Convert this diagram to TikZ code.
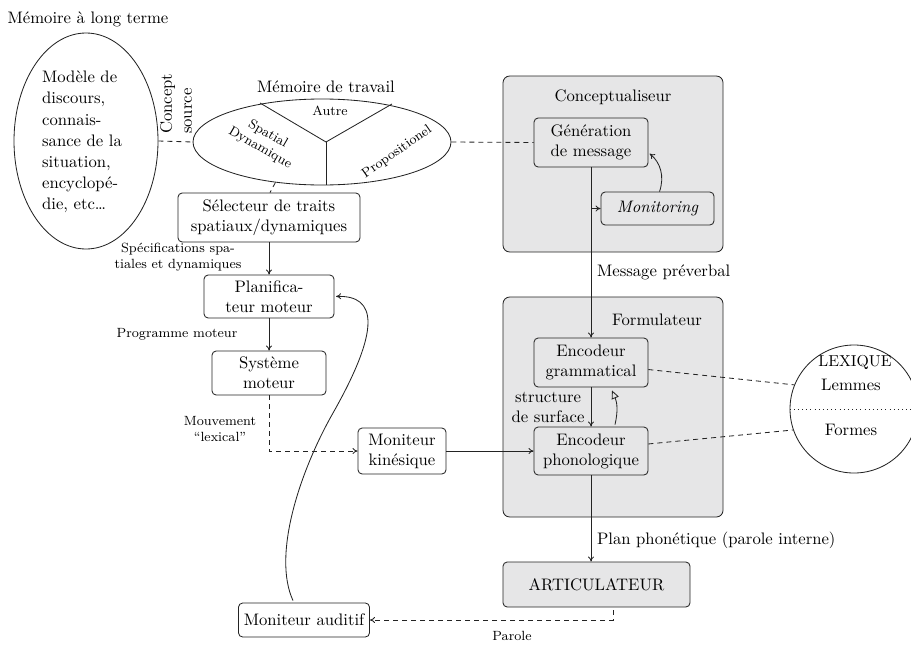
\documentclass[tikz,border=0pt]{standalone}
\usetikzlibrary{arrows.meta,calc,shapes.geometric}
\definecolor{panelgray}{RGB}{230,230,231}
\definecolor{inkgray}{RGB}{35,35,35}
\begin{document}
\begin{tikzpicture}[x=0.6pt,y=-0.6pt, line width=0.5pt, draw=inkgray,
  >={To[length=3pt,width=3.6pt]},
  box/.style={draw=inkgray, rounded corners=2.5pt, align=center, inner sep=1pt, fill=white},
  gbox/.style={box, fill=panelgray},
  panel/.style={draw=inkgray, rounded corners=4pt, fill=panelgray, inner sep=0pt},
  lbl/.style={font=\footnotesize, align=center, inner sep=1pt},
  txt/.style={align=center, inner sep=1pt},
  dashline/.style={dash pattern=on 3pt off 2.4pt}]
\useasboundingbox (0,0) rectangle (911,644);

% ---- long-term memory
\node[txt] (ltmtitle) at (88,19) {Mémoire à long terme};
\node[draw=inkgray, ellipse, minimum width=86.4pt, minimum height=129.6pt, inner sep=0pt] (ltm) at (86,141) {};
\node[align=left, inner sep=0pt, font=\linespread{1.06}\selectfont] (ltmtext) at (82,142) {Modèle de\\discours,\\connais-\\sance de la\\situation,\\encyclopé-\\die, etc\dots};
\node[rotate=90, align=left, anchor=north west, inner sep=1pt] (concept) at (158,136) {Concept\\source};

% ---- working memory
\node[txt] (wmtitle) at (326,87) {Mémoire de travail};
\node[draw=inkgray, ellipse, minimum width=154.8pt, minimum height=51.6pt, inner sep=0pt] (wm) at (322,142) {};
\coordinate (wmc) at (326,142);
\draw (wmc) -- (260,103);
\draw (wmc) -- (392,104);
\draw (wmc) -- (wmc |- wm.south);
\node[lbl] (autre) at (330,111) {Autre};
\node[lbl, rotate=-30] (spatial) at (264,141) {Spatial\\Dynamique};
\node[lbl, rotate=35] (prop) at (397,152) {Propositionel};

% ---- gesture side
\node[box, minimum width=109.2pt, minimum height=29.4pt] (sel) at (269,217.5) {Sélecteur de traits\\spatiaux/dynamiques};
\node[box, minimum width=78pt, minimum height=25.8pt] (pla) at (269,296.5) {Planifica-\\teur moteur};
\node[box, minimum width=68.4pt, minimum height=26.4pt] (sys) at (269,373) {Système\\moteur};
\node[box, minimum width=52.8pt, minimum height=27.6pt] (kin) at (402,451) {Moniteur\\kinésique};
\node[box, minimum width=78.6pt, minimum height=20.4pt] (aud) at (304,620) {Moniteur auditif};

\node[lbl] (specs) at (178,257) {Spécifications spa-\\tiales et dynamiques};
\node[lbl] (prog) at (177,334) {Programme moteur};
\node[lbl] (mouv) at (220,429) {Mouvement\\``lexical''};

% ---- conceptualiser
\node[panel, minimum width=132pt, minimum height=105.6pt] (concbox) at (613,164) {};
\node[txt] (conctitle) at (613,97) {Conceptualiseur};
\node[gbox, minimum width=68.4pt, minimum height=29.4pt] (gen) at (591,142.5) {Génération\\de message};
\node[gbox, minimum width=67.8pt, minimum height=19.8pt] (mon) at (657.5,208.5) {\itshape Monitoring};

% ---- formulator
\node[panel, minimum width=132pt, minimum height=132pt] (formbox) at (613,407) {};
\node[txt] (formtitle) at (657,320) {Formulateur};
\node[gbox, minimum width=68.4pt, minimum height=29.4pt] (gram) at (591,362.5) {Encodeur\\grammatical};
\node[gbox, minimum width=68.4pt, minimum height=28.8pt] (phon) at (591,451) {Encodeur\\phonologique};
\node[txt] (surf) at (548,407) {structure\\de surface};

% ---- articulator
\node[gbox, minimum width=112.2pt, minimum height=27pt] (art) at (596.5,584.5) {ARTICULATEUR};

% ---- lexicon
\node[draw=inkgray, circle, minimum size=76.8pt, inner sep=0pt] (lex) at (854,409) {};
\draw[dotted] (lex.west) -- (lex.east);
\node[txt, font=\fontsize{9.5}{11}\selectfont] (lexword) at (855,362) {LEXIQUE};
\node[txt] (lemmes) at (851,385) {Lemmes};
\node[txt] (formes) at (851,430) {Formes};

% ---- connectors
\draw[dashline] (ltm.east) -- (wm.west);
\draw[dashline] (wm.east) -- (gen.west);
\draw[dashline] (wm.221) -- ($(sel.north)+(1,0)$);
\draw[->] (sel.south) -- (pla.north);
\draw[->] (pla.south) -- (sys.north);
\draw[dashline,->] (sys.south) |- (kin.west);
\draw[->] (kin.east) -- (phon.west);

\draw[->] (gen.south) -- (gram.north);
\draw[->] (gen.south |- mon.west) -- (mon.west);
\draw[->, shorten >=1pt] ($(mon.north)+(2,0)$) to[bend right=35] (gen.-10);
\node[txt, anchor=west] (preverb) at (595,272) {Message préverbal};

\draw[->] (gram.south) -- (phon.north);
\draw[-{Triangle[open,length=5pt,width=4.5pt]}] ($(phon.north)+(24,-2)$) to[bend right=18] ($(gram.south)+(21,3)$);

\draw[dashline] (gram.-7) -- (lex.158);
\draw[dashline] (phon.7) -- (lex.199);

\draw[->] (phon.south) -- (phon.south |- art.north);
\node[txt, anchor=west] (plan) at (595,540) {Plan phonétique (parole interne)};

\draw[dashline,->] ($(art.south)+(17,3)$) |- (aud.east);
\node[lbl] (parole) at (512,636) {Parole};

\draw[->, shorten >=1pt] ($(aud.north)+(-11,-2)$) .. controls (272,555) and (300,471) .. (333,413)
  .. controls (380,330) and (378,295) .. (pla.east);
\end{tikzpicture}
\end{document}
